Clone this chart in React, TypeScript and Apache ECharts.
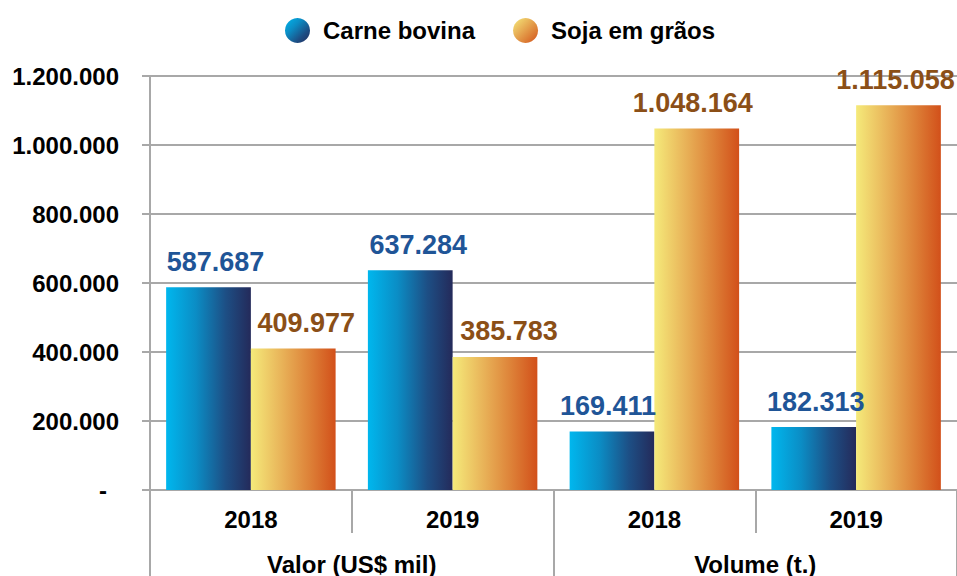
import React, { useEffect, useRef } from "react";
import * as echarts from "echarts";

const years: string[] = ["2018", "2019", "2018", "2019"];
const groups: string[] = ["Valor (US$ mil)", "Volume (t.)"];
const seriesNames: string[] = ["Carne bovina", "Soja em grãos"];
const carneBovina: number[] = [587687, 637284, 169411, 182313];
const sojaGraos: number[] = [409977, 385783, 1048164, 1115058];
const yTicks: number[] = [0, 200000, 400000, 600000, 800000, 1000000, 1200000];

const FONT = "'Liberation Sans', Arial, Helvetica, sans-serif";

// horizontal nudges of the value labels, as placed in the original chart
const carneLabelShift: number[] = [7, 8, -4, 2];
const sojaLabelShift: number[] = [13, 14, -4, -3];

const fmt = (v: number): string =>
  String(Math.round(v)).replace(/\B(?=(\d{3})+(?!\d))/g, ".");

const blueStops = [
  { offset: 0, color: "#00B7EE" },
  { offset: 0.35, color: "#0B8DC5" },
  { offset: 0.7, color: "#1D4F85" },
  { offset: 1, color: "#242A5A" },
];
const orangeStops = [
  { offset: 0, color: "#F5EA7A" },
  { offset: 0.35, color: "#E9B55A" },
  { offset: 0.7, color: "#DD8037" },
  { offset: 1, color: "#D2501A" },
];

export default function App() {
  const ref = useRef<HTMLDivElement>(null);

  useEffect(() => {
    if (!ref.current) return;
    const chart = echarts.init(ref.current, null, { renderer: "svg" });
    const gridColor = "#A8A8A8";
    const withShift = (vals: number[], shifts: number[]) =>
      vals.map((v, i) => ({ value: v, label: { offset: [shifts[i] || 0, 0] } }));
    const option: any = {
      animation: false,
      backgroundColor: "#FFFFFF",
      textStyle: { fontFamily: FONT },
      legend: {
        left: 280,
        top: 13,
        itemWidth: 25,
        itemHeight: 25,
        itemGap: 38,
        icon: "circle",
        textStyle: {
          fontFamily: FONT,
          fontSize: 24,
          fontWeight: "bold",
          color: "#000000",
          padding: [0, 0, 0, 8],
        },
        data: [
          {
            name: seriesNames[0],
            itemStyle: { color: new echarts.graphic.LinearGradient(0, 0, 1, 1, blueStops) },
          },
          {
            name: seriesNames[1],
            itemStyle: { color: new echarts.graphic.LinearGradient(0, 0, 1, 1, orangeStops) },
          },
        ],
      },
      grid: { left: 150, right: 0, top: 76, bottom: 86, containLabel: false },
      xAxis: [
        {
          type: "category",
          data: years,
          position: "bottom",
          axisLine: { show: true, lineStyle: { color: gridColor, width: 2 } },
          axisTick: { show: true, alignWithLabel: false, length: 43, lineStyle: { color: gridColor, width: 2 } },
          axisLabel: {
            margin: 17,
            fontFamily: FONT,
            fontSize: 24,
            fontWeight: "bold",
            color: "#000000",
          },
        },
        {
          type: "category",
          data: groups,
          position: "bottom",
          axisLine: { show: false },
          axisTick: { show: true, length: 86, lineStyle: { color: gridColor, width: 2 } },
          axisLabel: {
            margin: 62,
            fontFamily: FONT,
            fontSize: 24,
            fontWeight: "bold",
            color: "#000000",
          },
        },
      ],
      yAxis: {
        type: "value",
        min: yTicks[0],
        max: yTicks[yTicks.length - 1],
        interval: yTicks[1] - yTicks[0],
        axisLine: { show: true, lineStyle: { color: gridColor, width: 2 } },
        axisTick: { show: true, inside: false, length: 8, lineStyle: { color: gridColor, width: 2 } },
        splitLine: { show: true, lineStyle: { color: gridColor, width: 2 } },
        axisLabel: {
          margin: 31,
          fontFamily: FONT,
          fontSize: 24,
          fontWeight: "bold",
          color: "#000000",
          formatter: (v: number) => (v === 0 ? "{d|-}" : fmt(v)),
          rich: {
            d: {
              fontFamily: FONT,
              fontSize: 24,
              fontWeight: "bold",
              color: "#000000",
              padding: [0, 12, 0, 0],
            },
          },
        },
      },
      series: [
        {
          name: seriesNames[0],
          type: "bar",
          xAxisIndex: 0,
          data: withShift(carneBovina, carneLabelShift),
          barGap: "0%",
          barCategoryGap: "16%",
          itemStyle: { color: new echarts.graphic.LinearGradient(0, 0, 1, 0, blueStops) },
          label: {
            show: true,
            position: "top",
            distance: 12,
            fontFamily: FONT,
            fontSize: 27,
            fontWeight: "bold",
            color: "#1F5597",
            formatter: (p: any) => fmt(p.value),
          },
        },
        {
          name: seriesNames[1],
          type: "bar",
          xAxisIndex: 0,
          data: withShift(sojaGraos, sojaLabelShift),
          barGap: "0%",
          barCategoryGap: "16%",
          itemStyle: { color: new echarts.graphic.LinearGradient(0, 0, 1, 0, orangeStops) },
          label: {
            show: true,
            position: "top",
            distance: 12,
            fontFamily: FONT,
            fontSize: 27,
            fontWeight: "bold",
            color: "#8B4F17",
            formatter: (p: any) => fmt(p.value),
          },
        },
      ],
    };
    chart.setOption(option);
    return () => {
      chart.dispose();
    };
  }, []);

  return (
    <div
      ref={ref}
      style={{ position: "fixed", left: 0, top: 0, width: 957, height: 576, background: "#fff" }}
    />
  );
}
